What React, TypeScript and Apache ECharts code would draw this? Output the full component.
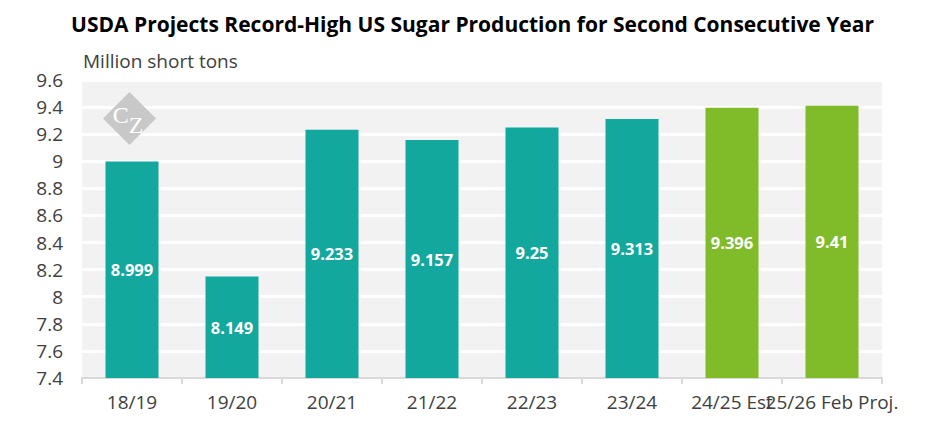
import React, { useEffect, useRef } from "react";
import * as echarts from "echarts";

const categories = ["18/19", "19/20", "20/21", "21/22", "22/23", "23/24", "24/25 Est", "25/26 Feb Proj."];
const values = [8.999, 8.149, 9.233, 9.157, 9.25, 9.313, 9.396, 9.41];
const barColors = ["#13a89e", "#13a89e", "#13a89e", "#13a89e", "#13a89e", "#13a89e", "#80bc2a", "#80bc2a"];

const FONT = "'Open Sans', 'Noto Sans', sans-serif";
const SERIF = "'Liberation Serif', 'DejaVu Serif', serif";

export default function App() {
  const ref = useRef<HTMLDivElement>(null);
  useEffect(() => {
    if (!ref.current) return;
    const chart = echarts.init(ref.current, undefined, { renderer: "svg" });
    chart.setOption({
      animation: false,
      backgroundColor: "#ffffff",
      title: {
        text: "USDA Projects Record-High US Sugar Production for Second Consecutive Year",
        left: "center",
        top: 8,
        textStyle: { fontFamily: FONT, fontSize: 21, fontWeight: "bold", color: "#000000" },
      },
      grid: {
        left: 82,
        right: 63,
        top: 80,
        bottom: 65,
        show: true,
        backgroundColor: "#f2f2f2",
        borderWidth: 0,
        containLabel: false,
      },
      graphic: [
        {
          type: "text",
          left: 83,
          top: 51,
          style: { text: "Million short tons", fontFamily: FONT, fontSize: 19, fill: "#404040" },
        },
        {
          type: "polygon",
          shape: { points: [[129.5, 92], [156, 118.5], [129.5, 145], [103, 118.5]] },
          style: { fill: "#c8c8c8" },
          z: 5,
        },
        {
          type: "text",
          x: 128,
          y: 120,
          style: {
            text: "{c|C}{z|Z}",
            align: "center",
            verticalAlign: "middle",
            fill: "#ffffff",
            fontFamily: SERIF,
            fontSize: 24,
            rich: {
              c: { fontFamily: SERIF, fontSize: 24, fill: "#ffffff", padding: [0, 0, 10, 0] },
              z: { fontFamily: SERIF, fontSize: 24, fill: "#ffffff", padding: [10, 0, 0, 0] },
            },
          },
          z: 6,
        },
      ],
      xAxis: {
        type: "category",
        data: categories,
        axisLine: { show: true, lineStyle: { color: "#d9d9d9", width: 2 } },
        axisTick: { show: true, length: 6, lineStyle: { color: "#d9d9d9", width: 2 } },
        axisLabel: { interval: 0, margin: 14, fontFamily: FONT, fontSize: 19, color: "#404040" },
      },
      yAxis: {
        type: "value",
        min: 7.4,
        max: 9.6,
        interval: 0.2,
        axisLine: { show: false },
        axisTick: { show: false },
        splitLine: { show: true, lineStyle: { color: "#ffffff", width: 3 } },
        axisLabel: {
          margin: 19,
          fontFamily: FONT,
          fontSize: 19,
          color: "#404040",
          formatter: (v: number) => String(Math.round(v * 10) / 10),
        },
      },
      series: [
        {
          type: "bar",
          barWidth: 53,
          data: values.map((v, i) => ({ value: v, itemStyle: { color: barColors[i] } })),
          label: {
            show: true,
            position: "inside",
            fontFamily: FONT,
            fontSize: 16.5,
            fontWeight: "bold",
            color: "#ffffff",
          },
        },
      ],
    });
    return () => chart.dispose();
  }, []);
  return <div ref={ref} style={{ position: "fixed", left: 0, top: 0, width: 945, height: 443 }} />;
}
